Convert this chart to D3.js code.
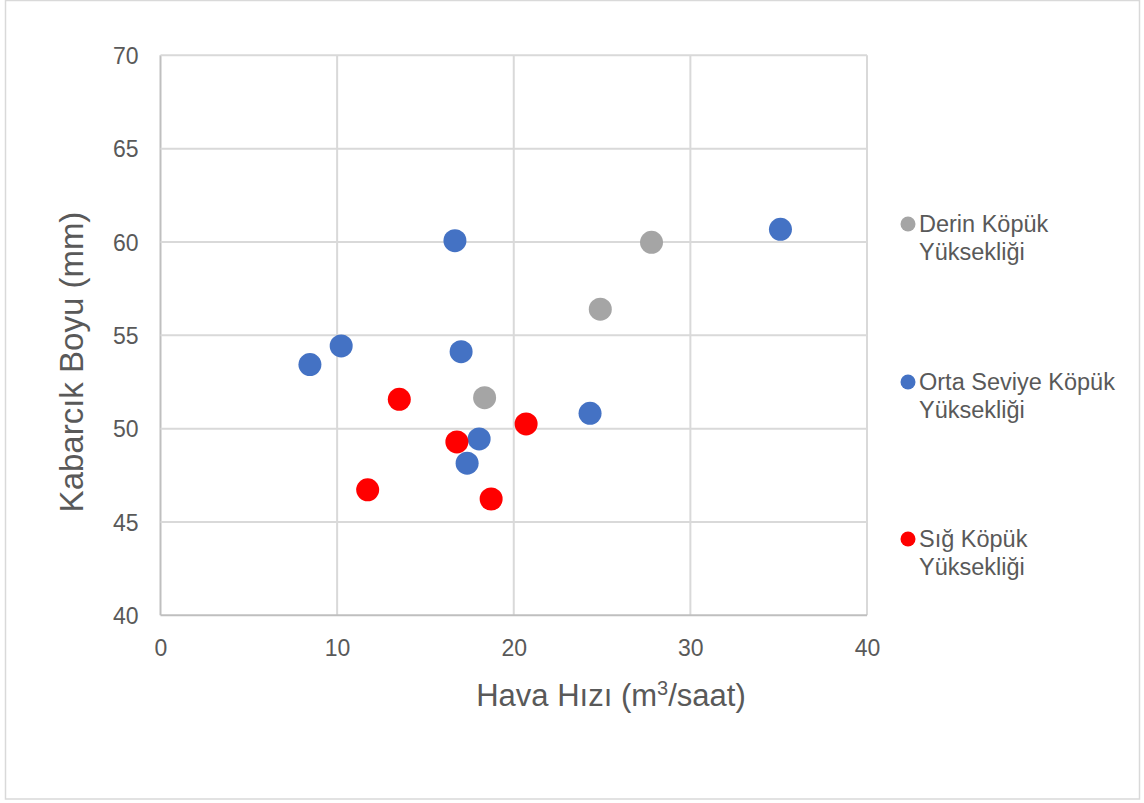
<!DOCTYPE html>
<html>
<head>
<meta charset="utf-8">
<script src="https://cdn.jsdelivr.net/npm/d3@7"></script>
<style>
  html, body { margin: 0; padding: 0; background: #fff; }
  svg { display: block; font-family: "Liberation Sans", Arial, sans-serif; }
</style>
</head>
<body>
<svg id="chart" width="1144" height="803"></svg>
<script>
// ---- Data ----
const seriesNames = ["Derin Köpük Yüksekliği", "Orta Seviye Köpük Yüksekliği", "Sığ Köpük Yüksekliği"];
const legendLines = [["Derin Köpük", "Yüksekliği"], ["Orta Seviye Köpük", "Yüksekliği"], ["Sığ Köpük", "Yüksekliği"]];
const seriesColors = ["#A5A5A5", "#4472C4", "#FF0000"];

const derinX = [27.8, 24.9, 18.35];
const derinY = [59.98, 56.4, 51.66];

const ortaX = [16.67, 35.1, 8.46, 10.23, 17.02, 18.04, 17.36, 24.32];
const ortaY = [60.07, 60.68, 53.43, 54.43, 54.12, 49.45, 48.15, 50.82];

const sigX = [13.52, 20.7, 16.78, 11.73, 18.72];
const sigY = [51.57, 50.25, 49.29, 46.72, 46.23];

const xTicks = [0, 10, 20, 30, 40];
const yTicks = [40, 45, 50, 55, 60, 65, 70];
const xTitle = "Hava Hızı (m";
const xTitleSup = "3";
const xTitleEnd = "/saat)";
const yTitle = "Kabarcık Boyu (mm)";

// ---- Layout ----
const svg = d3.select("#chart");
const plot = { left: 160.5, right: 867, top: 55.3, bottom: 615.3 };
const textColor = "#595959";
const gridColor = "#D9D9D9";
const FONT = "Liberation Sans, Arial, sans-serif";

// outer chart border
svg.append("rect")
  .attr("x", 5.5).attr("y", 0.5).attr("width", 1134).attr("height", 798.5)
  .attr("fill", "#fff").attr("stroke", "#D9D9D9").attr("stroke-width", 1.5);

const x = d3.scaleLinear().domain([0, 40]).range([plot.left, plot.right]);
const y = d3.scaleLinear().domain([40, 70]).range([plot.bottom, plot.top]);

// gridlines
const g = svg.append("g");
g.selectAll("line.vg").data(xTicks).join("line")
  .attr("x1", d => x(d)).attr("x2", d => x(d))
  .attr("y1", plot.top).attr("y2", plot.bottom)
  .attr("stroke", d => d === 0 ? "#BFBFBF" : gridColor).attr("stroke-width", 2);
g.selectAll("line.hg").data(yTicks).join("line")
  .attr("x1", plot.left).attr("x2", plot.right)
  .attr("y1", d => y(d)).attr("y2", d => y(d))
  .attr("stroke", d => d === 40 ? "#BFBFBF" : gridColor).attr("stroke-width", 2);

// axes via d3 axis (labels only)
const xAxis = d3.axisBottom(x).tickValues(xTicks).tickSize(0).tickPadding(0);
const gx = svg.append("g").attr("transform", `translate(0,${plot.bottom})`).call(xAxis);
gx.attr("font-family", FONT);
gx.select(".domain").remove();
gx.selectAll("text")
  .attr("dy", null).attr("y", 41)
  .attr("fill", textColor).attr("font-size", 23);

const yAxis = d3.axisLeft(y).tickValues(yTicks).tickSize(0).tickPadding(0);
const gy = svg.append("g").attr("transform", `translate(${plot.left},0)`).call(yAxis);
gy.attr("font-family", FONT);
gy.select(".domain").remove();
gy.selectAll("text")
  .attr("x", -22).attr("dy", "0.35em")
  .attr("fill", textColor).attr("font-size", 23);

// axis titles
const xt = svg.append("text")
  .attr("x", 611).attr("y", 706)
  .attr("text-anchor", "middle").attr("fill", textColor).attr("font-size", 31);
xt.append("tspan").text(xTitle);
xt.append("tspan").attr("dy", -11).attr("font-size", 20).text(xTitleSup);
xt.append("tspan").attr("dy", 11).text(xTitleEnd);

svg.append("text")
  .attr("transform", `translate(83,362) rotate(-90)`)
  .attr("text-anchor", "middle").attr("fill", textColor).attr("font-size", 33)
  .text(yTitle);

// points
const series = [
  { name: seriesNames[0], xs: derinX, ys: derinY, color: seriesColors[0] },
  { name: seriesNames[1], xs: ortaX, ys: ortaY, color: seriesColors[1] },
  { name: seriesNames[2], xs: sigX, ys: sigY, color: seriesColors[2] }
];
series.forEach(s => {
  const pts = s.xs.map((v, i) => [v, s.ys[i]]);
  svg.append("g").selectAll("circle").data(pts).join("circle")
    .attr("cx", d => x(d[0])).attr("cy", d => y(d[1]))
    .attr("r", 11.5).attr("fill", s.color);
});

// legend
const legendY = [224, 382, 539];
series.forEach((s, i) => {
  const lg = svg.append("g").attr("transform", `translate(0,${legendY[i]})`);
  lg.append("circle").attr("cx", 908).attr("cy", 0).attr("r", 7.5).attr("fill", s.color);
  const t = lg.append("text").attr("x", 919).attr("y", 0).attr("fill", textColor).attr("font-size", 23.5);
  legendLines[i].forEach((line, j) => {
    t.append("tspan").attr("x", 919).attr("y", 8 + j * 28).text(line);
  });
});
</script>
</body>
</html>
